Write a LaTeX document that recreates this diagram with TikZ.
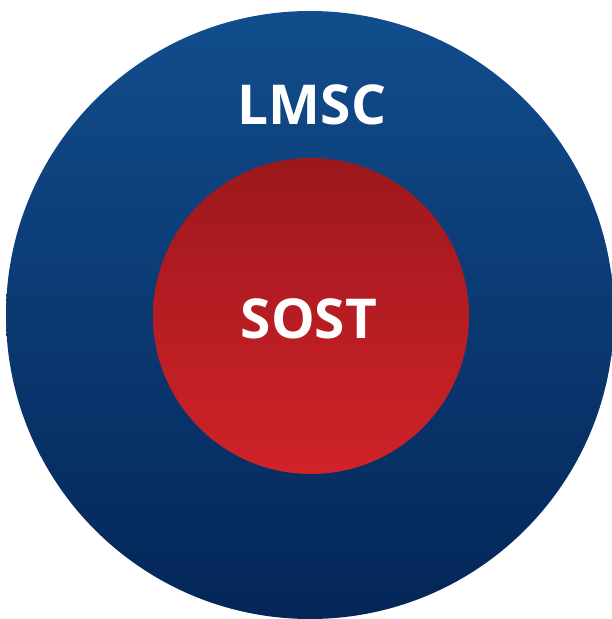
\documentclass[tikz,border=0pt]{standalone}
\usepackage{fontspec}
\setmainfont{Open Sans}
\definecolor{outertop}{RGB}{17,77,140}
\definecolor{outerbot}{RGB}{4,38,88}
\definecolor{innertop}{RGB}{156,24,28}
\definecolor{innerbot}{RGB}{208,34,41}
\tikzset{
  ring/.style={circle, inner sep=0pt, draw=none},
  label/.style={text=white, font=\fontsize{55}{60}\selectfont\bfseries, inner sep=0pt}
}
\begin{document}
\begin{tikzpicture}[x=1pt,y=-1pt]
  \useasboundingbox (0,0) rectangle (612,619);
  \node[ring, minimum size=608pt, top color=outertop, bottom color=outerbot] (outer) at (310,315) {};
  \node[ring, minimum size=316pt, top color=innertop, bottom color=innerbot] (inner) at (311,316) {};
  \node[label] (lmsc) at (312,105) {LMSC};
  \node[label] (sost) at (309,319) {SOST};
\end{tikzpicture}
\end{document}
